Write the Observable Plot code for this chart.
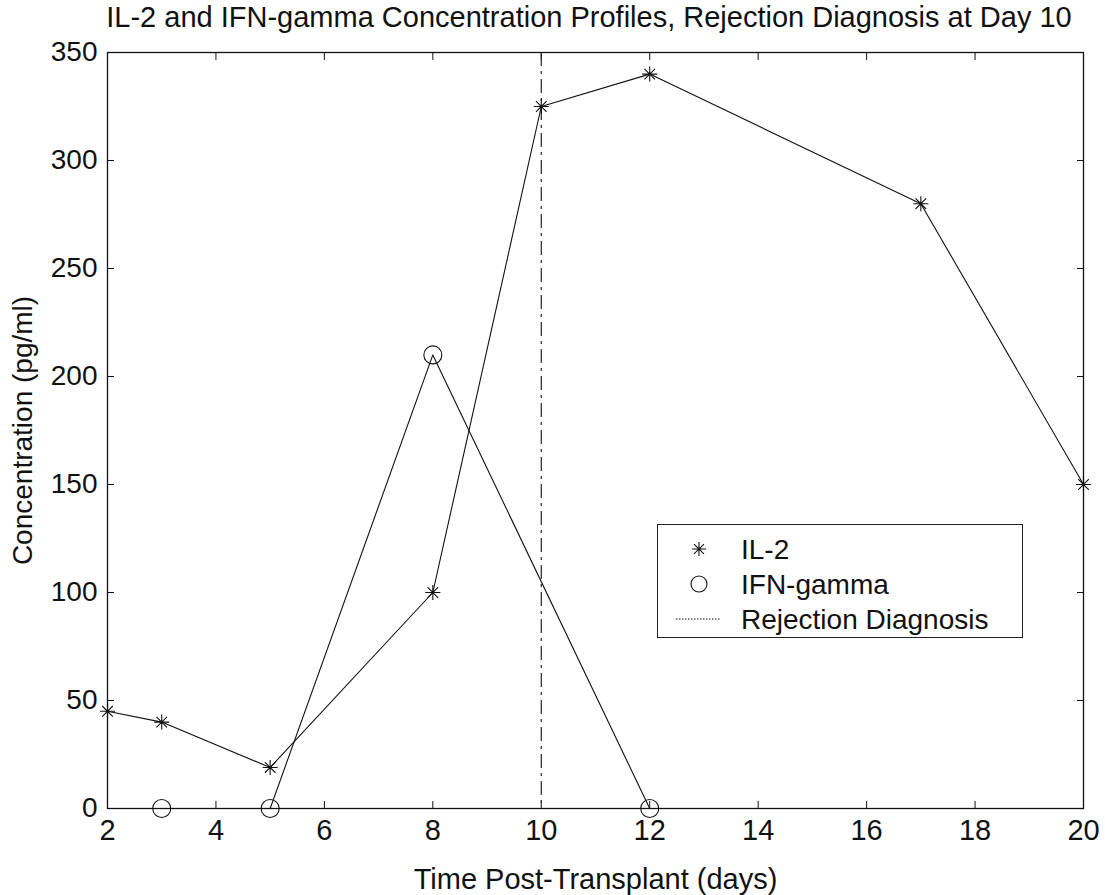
<!DOCTYPE html>
<html>
<head>
<meta charset="utf-8">
<script src="https://cdn.jsdelivr.net/npm/d3@7"></script>
<script src="https://cdn.jsdelivr.net/npm/@observablehq/plot@0.6"></script>
<style>
  body { margin: 0; background: #fff; }
  #wrap { position: relative; width: 1105px; height: 895px; font-family: "Liberation Sans", Arial, Helvetica, sans-serif; color: #111; }
  #title { position: absolute; left: 89px; width: 1000px; top: 3px; text-align: center; font-size: 29px; line-height: 29px; white-space: nowrap; }
  #legend { position: absolute; left: 657px; top: 524px; width: 364px; height: 112px; border: 1.3px solid #222; background: #fff; }
  #legend svg { position: absolute; left: 0; top: 0; }
  #chart { position: absolute; left: 0; top: 0; }
</style>
</head>
<body>
<div id="wrap">
  <div id="chart"></div>
  <div id="title"></div>
  <div id="legend"></div>
</div>
<script>
// ---- data ----
const titleText = "IL-2 and IFN-gamma Concentration Profiles, Rejection Diagnosis at Day 10";
const xLabel = "Time Post-Transplant (days)";
const yLabel = "Concentration (pg/ml)";

const il2Days = [2, 3, 5, 8, 10, 12, 17, 20];
const il2Values = [45, 40, 19, 100, 325, 340, 280, 150];

const ifnDays = [3, 5, 8, 12];
const ifnValues = [0, 0, 210, 0];

const rejectionDay = [10];

const xTicks = [2, 4, 6, 8, 10, 12, 14, 16, 18, 20];
const yTicks = [0, 50, 100, 150, 200, 250, 300, 350];

const legendLabels = ["IL-2", "IFN-gamma", "Rejection Diagnosis"];

// ---- build tables ----
const il2 = il2Days.map((d, i) => ({day: d, value: il2Values[i]}));
const ifn = ifnDays.map((d, i) => ({day: d, value: ifnValues[i]}));

// MATLAB-style '*' marker (plus + cross)
const star8 = {
  draw(ctx, size) {
    const r = Math.sqrt(size / Math.PI);
    const d = r * Math.SQRT1_2;
    ctx.moveTo(-r, 0); ctx.lineTo(r, 0);
    ctx.moveTo(0, -r); ctx.lineTo(0, r);
    ctx.moveTo(-d, -d); ctx.lineTo(d, d);
    ctx.moveTo(-d, d); ctx.lineTo(d, -d);
  }
};

const font = "Liberation Sans, Arial, Helvetica, sans-serif";
const ink = "#111";

const chart = Plot.plot({
  width: 1105,
  height: 895,
  marginLeft: 107,
  marginRight: 22,
  marginTop: 52,
  marginBottom: 87,
  style: {fontFamily: font, fontSize: "28px", color: ink, background: "#fff", overflow: "visible"},
  x: {domain: [2, 20]},
  y: {domain: [0, 350]},
  marks: [
    Plot.axisX({ticks: xTicks, tickSize: -7, tickPadding: 18, label: xLabel, labelAnchor: "center", labelArrow: "none", labelOffset: 80, fontSize: 29, stroke: ink}),
    Plot.axisX({anchor: "top", ticks: xTicks, tickSize: -7, tickFormat: () => "", label: null, stroke: ink}),
    Plot.axisY({ticks: yTicks, tickSize: -7, tickPadding: 17, label: yLabel, labelAnchor: "center", labelArrow: "none", labelOffset: 95, fontSize: 28, stroke: ink}),
    Plot.axisY({anchor: "right", ticks: yTicks, tickSize: -7, tickFormat: () => "", label: null, stroke: ink}),
    Plot.ruleX(rejectionDay, {x: d => d, stroke: "#222", strokeWidth: 1.2, strokeDasharray: "14,5,3,5"}),
    Plot.line(il2, {x: "day", y: "value", stroke: ink, strokeWidth: 1.1}),
    Plot.line(ifn, {x: "day", y: "value", stroke: ink, strokeWidth: 1.1}),
    Plot.dot(il2, {x: "day", y: "value", symbol: star8, r: 7.5, fill: "none", stroke: ink, strokeWidth: 1.1}),
    Plot.dot(ifn, {x: "day", y: "value", symbol: "circle", r: 9, fill: "none", stroke: ink, strokeWidth: 1.1}),
    Plot.frame({stroke: ink, strokeWidth: 1.3})
  ]
});
document.getElementById("chart").appendChild(chart);
document.getElementById("title").textContent = titleText;

// ---- legend ----
const lg = d3.select("#legend").append("svg").attr("width", 364).attr("height", 112)
  .style("font-family", font).style("font-size", "28px");
const rowY = [24, 59, 94];
legendLabels.forEach((lab, i) => {
  lg.append("text").attr("x", 83).attr("y", rowY[i]).attr("dy", "0.36em").attr("fill", ink).text(lab);
});
// star
lg.append("path").attr("transform", `translate(41,${rowY[0]})`)
  .attr("d", d3.symbol(star8, Math.PI * 49)())
  .attr("fill", "none").attr("stroke", ink).attr("stroke-width", 1.1);
// circle
lg.append("circle").attr("cx", 41).attr("cy", rowY[1]).attr("r", 8)
  .attr("fill", "none").attr("stroke", ink).attr("stroke-width", 1.1);
// dotted line
lg.append("line").attr("x1", 18).attr("x2", 63).attr("y1", rowY[2]).attr("y2", rowY[2])
  .attr("stroke", ink).attr("stroke-width", 1).attr("stroke-dasharray", "1.5,1.5");
</script>
</body>
</html>
